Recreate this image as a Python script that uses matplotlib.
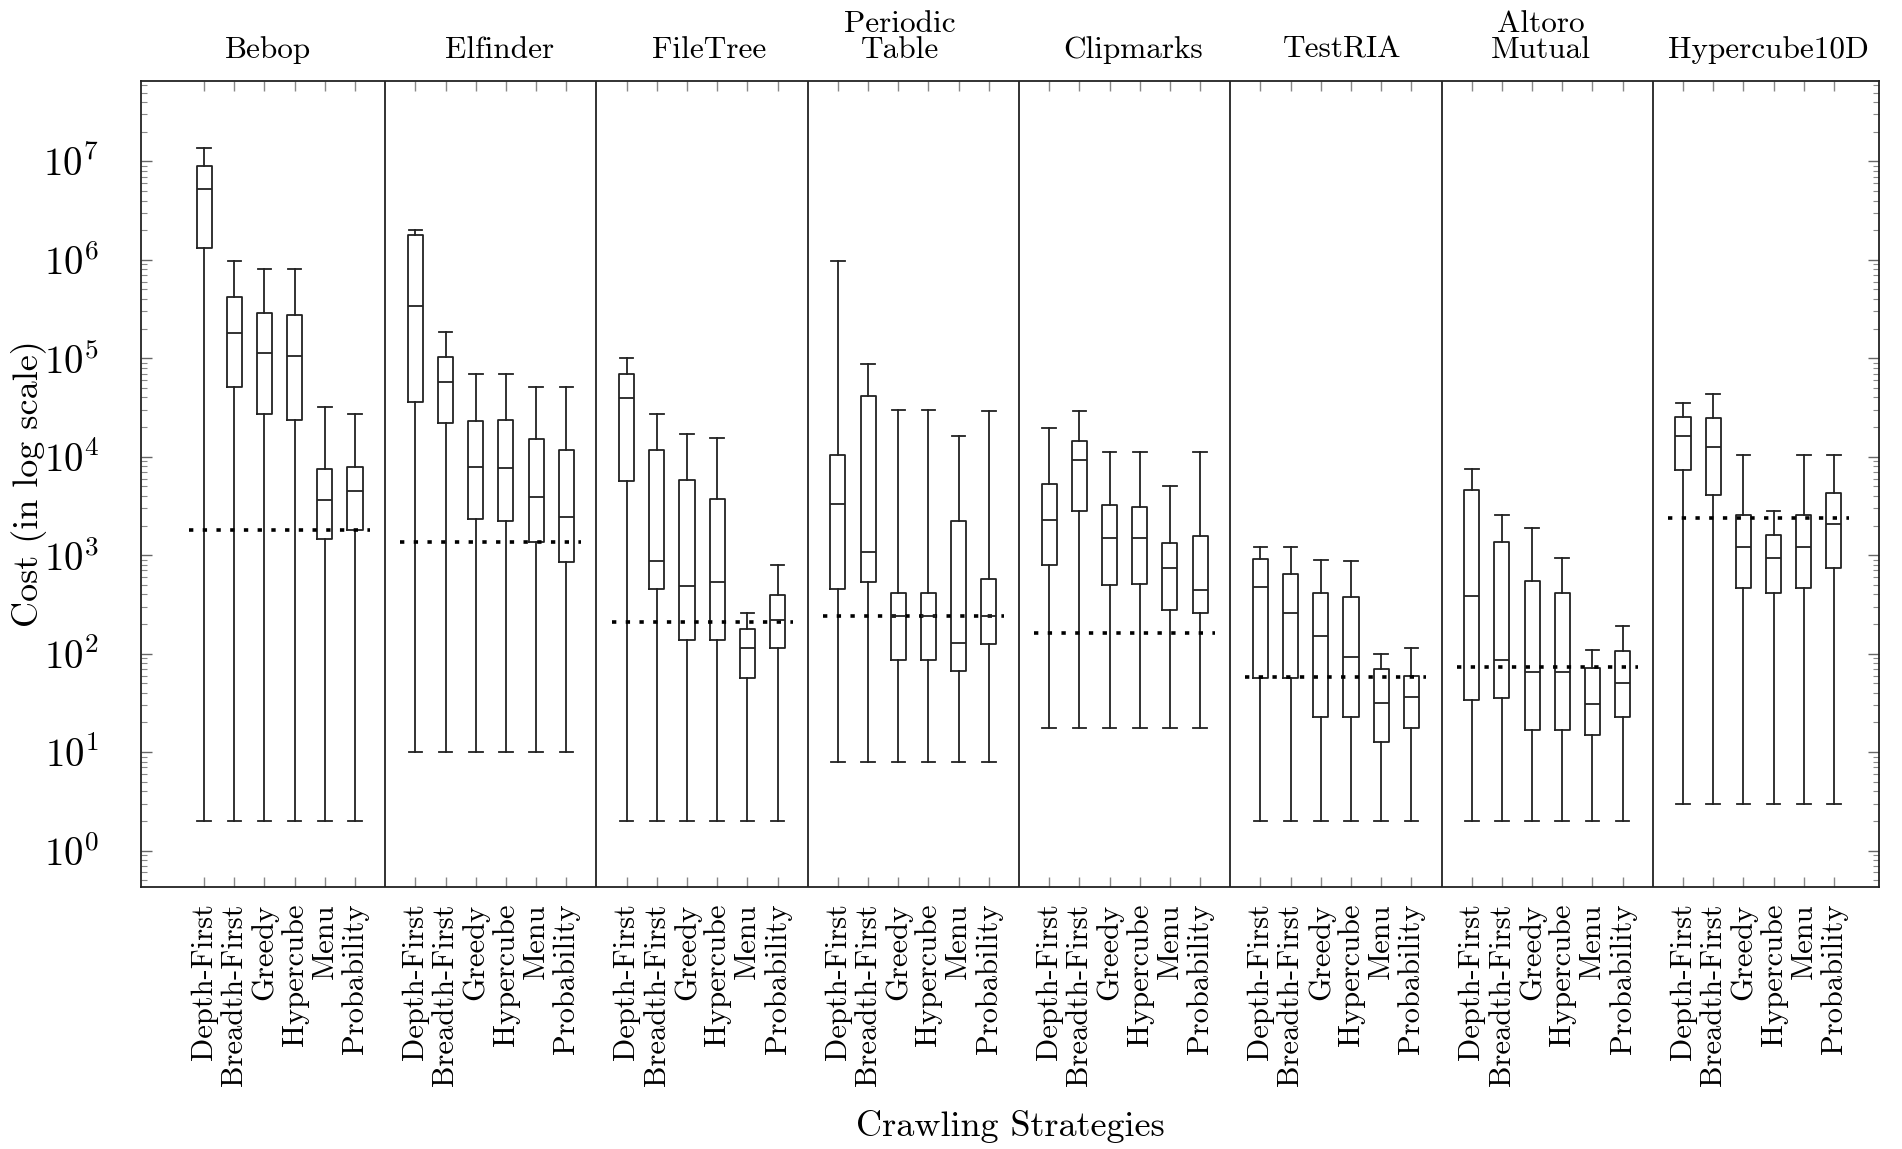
import numpy as np
import matplotlib
matplotlib.use('Agg')
import matplotlib.pyplot as plt
from matplotlib.ticker import LogLocator, NullFormatter
from matplotlib.transforms import blended_transform_factory

plt.rcParams['font.family'] = 'serif'
plt.rcParams['font.serif'] = ['cmr10', 'DejaVu Serif']
plt.rcParams['mathtext.fontset'] = 'cm'
plt.rcParams['axes.formatter.use_mathtext'] = True

apps = ['Bebop', 'Elfinder', 'FileTree', 'Periodic\nTable', 'Clipmarks',
        'TestRIA', 'Altoro\nMutual', 'Hypercube10D']
strategies = ['Depth-First', 'Breadth-First', 'Greedy', 'Hypercube', 'Menu', 'Probability']

# each row: (whisker low, Q1, median, Q3, whisker high), one row per strategy
bebop = [(2, 1.31e6, 5.3e6, 9.0e6, 1.36e7),
         (2, 5.1e4, 1.79e5, 4.2e5, 9.7e5),
         (2, 2.7e4, 1.13e5, 2.88e5, 8.15e5),
         (2, 2.38e4, 1.06e5, 2.77e5, 8.15e5),
         (2, 1460, 3600, 7450, 3.22e4),
         (2, 1790, 4450, 7800, 2.74e4)]
elfinder = [(10, 3.56e4, 3.39e5, 1.77e6, 2.0e6),
            (10, 2.18e4, 5.8e4, 1.02e5, 1.86e5),
            (10, 2350, 7800, 2.33e4, 7.0e4),
            (10, 2240, 7600, 2.38e4, 7.0e4),
            (10, 1360, 3930, 1.5e4, 5.1e4),
            (10, 863, 2470, 1.18e4, 5.1e4)]
filetree = [(2, 5650, 3.98e4, 6.9e4, 1.0e5),
            (2, 456, 864, 1.18e4, 2.7e4),
            (2, 139, 486, 5800, 1.72e4),
            (2, 139, 530, 3740, 1.56e4),
            (2, 56, 114, 178, 256),
            (2, 114, 221, 393, 791)]
periodic = [(8, 451, 3340, 1.03e4, 9.8e5),
            (8, 537, 1070, 4.14e4, 8.8e4),
            (8, 87, 241, 413, 2.99e4),
            (8, 87, 241, 413, 2.99e4),
            (8, 66, 127, 2210, 1.62e4),
            (8, 124, 241, 578, 2.91e4)]
clipmarks = [(17.6, 791, 2300, 5300, 1.98e4),
             (17.6, 2800, 9300, 1.46e4, 2.91e4),
             (17.6, 504, 1500, 3200, 1.12e4),
             (17.6, 510, 1480, 3060, 1.11e4),
             (17.6, 280, 743, 1320, 5100),
             (17.6, 260, 445, 1580, 1.11e4)]
testria = [(2, 56, 480, 920, 1210),
           (2, 56, 256, 640, 1200),
           (2, 22.9, 150, 418, 897),
           (2, 22.9, 92, 373, 875),
           (2, 12.7, 31.7, 70, 99),
           (2, 17.6, 36.4, 59, 115)]
altoro = [(2, 33.7, 383, 4620, 7450),
          (2, 35.5, 86, 1370, 2540),
          (2, 16.7, 65.5, 550, 1880),
          (2, 16.7, 65.5, 413, 943),
          (2, 14.8, 30.9, 71.5, 108),
          (2, 22.9, 50.4, 107, 190)]
hypercube10d = [(3, 7350, 1.64e4, 2.54e4, 3.5e4),
                (3, 4080, 1.26e4, 2.45e4, 4.35e4),
                (3, 468, 1200, 2570, 1.03e4),
                (3, 413, 943, 1600, 2840),
                (3, 468, 1200, 2570, 1.03e4),
                (3, 734, 2070, 4240, 1.03e4)]

# dotted reference line per application
reference = [1790, 1360, 212, 241, 161, 57.8, 73.3, 2410]

groups = [bebop, elfinder, filetree, periodic, clipmarks, testria, altoro, hypercube10d]

# small horizontal nudges of the group titles (in box units)
title_shift = [-0.4, 0.28, 0.24, -0.44, 0.28, 0.2, -0.2, 0.32]

fig = plt.figure(figsize=(19.02, 11.49), dpi=100)
ax = fig.add_axes([0.074, 0.2283, 0.914, 0.7009])
ink = '#222222'

stats, positions = [], []
for g, rows in enumerate(groups):
    for i, (lo, q1, med, q3, hi) in enumerate(rows):
        stats.append(dict(whislo=lo, q1=q1, med=med, q3=q3, whishi=hi, fliers=[]))
        positions.append(7 * g + i + 1)

lp = dict(color=ink, linewidth=1.3)
ax.bxp(stats, positions=positions, widths=0.5, capwidths=0.45, showfliers=False,
       boxprops=lp, whiskerprops=lp, capprops=lp, medianprops=lp)

for g, ref in enumerate(reference):
    ax.plot([7 * g + 0.5, 7 * g + 6.5], [ref, ref], color='black', linewidth=2.6,
            linestyle=(0, (1.2, 2.6)))
    if g > 0:
        ax.axvline(7 * g, color=ink, linewidth=1.3)

ax.set_yscale('log')
ax.set_ylim(0.43, 6.5e7)
ax.set_xlim(-1.1, 56.5)

ax.set_xticks(positions)
ax.set_xticklabels(strategies * len(apps), rotation=90, va='top', ha='center', fontsize=22)
ax.yaxis.set_major_locator(LogLocator(base=10, numticks=20))
ax.yaxis.set_minor_locator(LogLocator(base=10, subs=np.arange(2, 10), numticks=200))
ax.yaxis.set_minor_formatter(NullFormatter())
ax.tick_params(axis='x', which='major', direction='in', top=True, length=7,
               width=1, color='#888888', pad=12)
ax.tick_params(axis='y', which='major', direction='in', left=True, right=True,
               length=8, width=1, color='#666666', labelsize=28, pad=30)
ax.tick_params(axis='y', which='minor', direction='in', left=True, right=True,
               length=4.5, width=0.8, color='#888888')
for s in ax.spines.values():
    s.set_linewidth(1.3)
    s.set_color(ink)

trans = blended_transform_factory(ax.transData, ax.transAxes)
for g, name in enumerate(apps):
    ax.text(7 * g + 3.5 + title_shift[g], 1.022, name, transform=trans, ha='center',
            va='bottom', fontsize=22.5, linespacing=0.9)

ax.set_ylabel('Cost (in log scale)', fontsize=26)
ax.yaxis.set_label_coords(-0.054, 0.5)
ax.set_xlabel('Crawling Strategies', fontsize=26)
ax.xaxis.set_label_coords(0.5, -0.277)

fig.savefig('out.png', dpi=100)
